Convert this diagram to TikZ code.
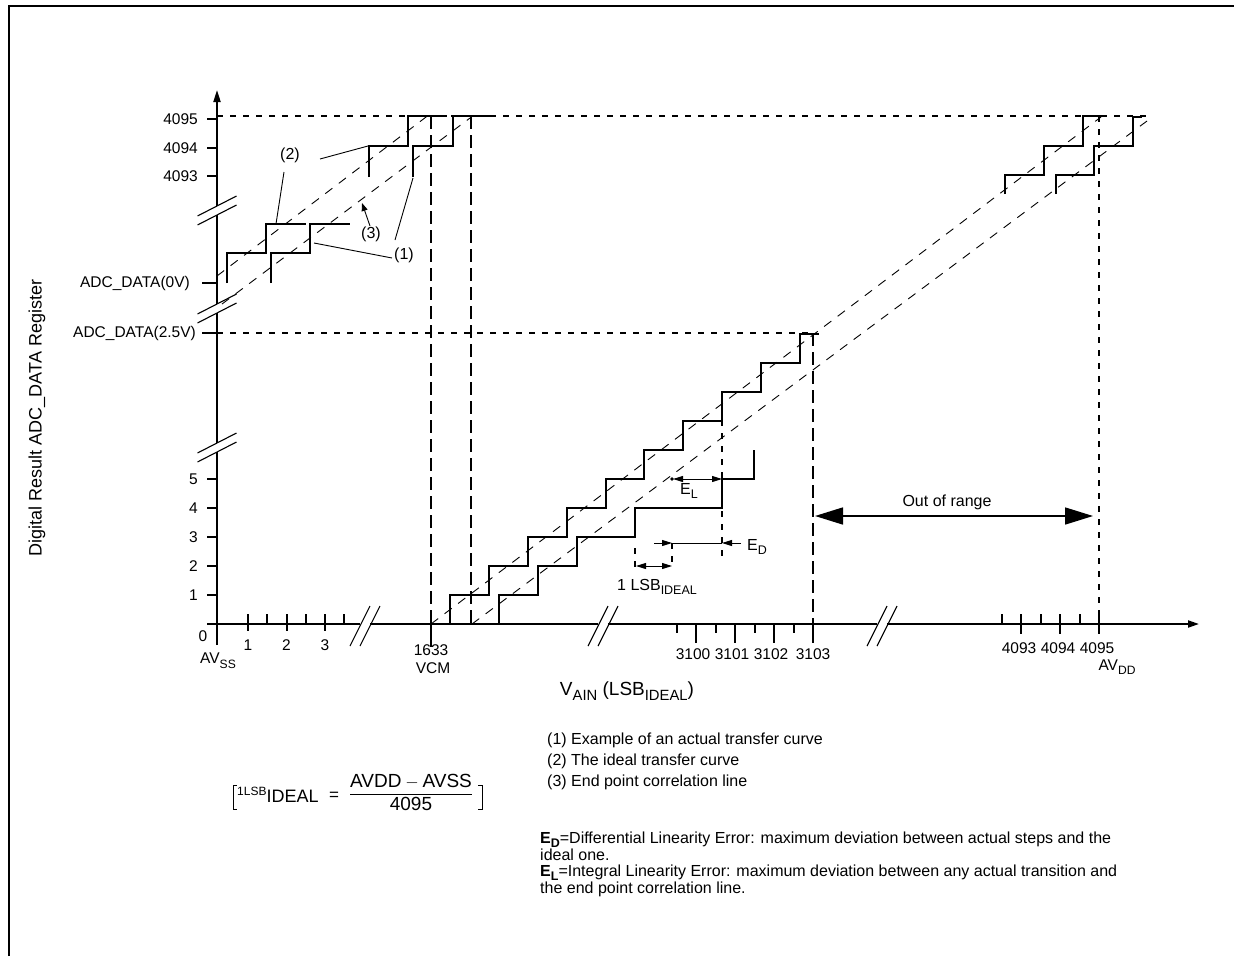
\documentclass[tikz,border=0pt]{standalone}
\usepackage{fontspec}
\setmainfont{Liberation Sans}
\usepackage{amsmath}
\usetikzlibrary{arrows.meta}

\newcommand{\subtxt}[1]{\raisebox{-0.3em}{\scalebox{0.78}{#1}}}
\newcommand{\subnote}[1]{\raisebox{-0.2em}{\scalebox{0.78}{#1}}}

\tikzset{
  axisline/.style={line width=2pt},
  stair/.style={line width=2pt},
  fitline/.style={line width=0.9pt, dash pattern=on 9pt off 8pt},
  guide/.style={line width=2pt, dash pattern=on 13pt off 6pt},
  level/.style={line width=1.6pt, dash pattern=on 6pt off 7pt},
  leader/.style={line width=0.9pt},
  tickmark/.style={line width=2pt},
  brk/.style={line width=1.1pt},
  lbl/.style={inner sep=0pt, font=\fontsize{16}{18}\selectfont},
  ticklbl/.style={inner sep=0pt, font=\fontsize{15.5}{17}\selectfont},
  note/.style={inner sep=0pt, anchor=north west, align=left, font=\fontsize{16}{17}\selectfont},
  tip/.style={-{Triangle[length=10pt,width=6pt]}},
}

\begin{document}
\begin{tikzpicture}[x=1pt,y=-1pt]
	\useasboundingbox (0,0) rectangle (1234,956);
	% frame
	\draw[line width=2.5pt] (9,956) -- (9,6) -- (1234,6);
	
	% axes with breaks
	\draw[axisline] (217,645) -- (217,452);
	\draw[axisline] (217,443) -- (217,313);
	\draw[axisline] (217,304) -- (217,215);
	\draw[axisline,-{Triangle[length=12pt,width=7pt]}] (217,206) -- (217,90);
	\draw[axisline] (207,624) -- (360,624);
	\draw[axisline] (370,624) -- (598,624);
	\draw[axisline] (608,624) -- (877,624);
	\draw[axisline,-{Triangle[length=11pt,width=7pt]}] (887,624) -- (1199,624);
	\foreach \y in {206,215,304,313,443,452}
		\draw[brk] (197.5,\y+10) -- (236.5,\y-10);
	\foreach \x in {360,370,598,608,877,887}
		\draw[brk] (\x-10,646) -- (\x+10,606);
	
	% y ticks
	\foreach \y/\t in {119/4095,148/4094,176/4093}{
		\draw[tickmark] (207,\y) -- (217,\y);
		\node[ticklbl,anchor=east] (y\t) at (198,\y) {\t};
	}
	\foreach \k in {1,...,5}{
		\draw[tickmark] (207,624-29*\k) -- (217,624-29*\k);
		\node[ticklbl,anchor=east] (y\k) at (198,624-29*\k) {\k};
	}
	\draw[tickmark] (202,283) -- (217,283);
	\node[ticklbl,anchor=east] (yzero) at (190,283) {ADC\_DATA(0V)};
	\draw[tickmark] (202,333) -- (217,333);
	\node[ticklbl,anchor=east] (yhalf) at (196,333) {ADC\_DATA(2.5V)};
	
	% x ticks
	\foreach \x in {248,286.5,325} \draw[tickmark] (\x,614) -- (\x,631);
	\foreach \x in {267,306,344} \draw[tickmark] (\x,614) -- (\x,624);
	\foreach \x in {696,735,774,813} \draw[tickmark] (\x,624) -- (\x,643);
	\foreach \x in {676.5,715.5,754.5,793.5} \draw[tickmark] (\x,624) -- (\x,633);
	\foreach \x in {1021,1060,1099} \draw[tickmark] (\x,614) -- (\x,634);
	\foreach \x in {1002,1041,1080} \draw[tickmark] (\x,614) -- (\x,624);
	\draw[tickmark] (431,624) -- (431,647);
	\node[ticklbl] (x0) at (203,636) {0};
	\node[ticklbl] (x1) at (248,645) {1};
	\node[ticklbl] (x2) at (286.5,645) {2};
	\node[ticklbl] (x3) at (325,645) {3};
	\node[ticklbl] (xss) at (218,661) {AV\subtxt{SS}};
	\node[ticklbl] (xvcm) at (431,650) {1633};
	\node[ticklbl] (xvcmb) at (433,668) {VCM};
	\node[ticklbl] (x3100) at (693,654) {3100};
	\node[ticklbl] (x3101) at (732,654) {3101};
	\node[ticklbl] (x3102) at (771,654) {3102};
	\node[ticklbl] (x3103) at (813,654) {3103};
	\node[ticklbl] (x4093) at (1019,648) {4093};
	\node[ticklbl] (x4094) at (1058,648) {4094};
	\node[ticklbl] (x4095) at (1097,648) {4095};
	\node[ticklbl] (xdd) at (1117,667) {AV\subtxt{DD}};
	
	% guide lines
	\draw[level] (217,116) -- (1150,116);
	\draw[level] (217,333) -- (815,333);
	\draw[guide] (431,116) -- (431,624);
	\draw[guide] (471,116) -- (471,624);
	\draw[guide] (813,333) -- (813,624);
	\draw[level] (1099,116) -- (1099,624);
	
	% end point and ideal lines
	\draw[fitline] (431,624) -- (1101,117);
	\draw[fitline] (472,624) -- (1147,121);
	\draw[fitline] (217,276) -- (430,114);
	\draw[fitline] (222,304) -- (470,118);
	
	% staircases
	\draw[stair] (450,624) -- (450,595) -- (489,595) -- (489,566) -- (528,566) -- (528,537)
		-- (567,537) -- (567,508) -- (606,508) -- (606,479) -- (644,479) -- (644,450)
		-- (683,450) -- (683,421) -- (722,421) -- (722,392) -- (761,392) -- (761,363)
		-- (800,363) -- (800,334) -- (819,334);
	\draw[stair] (499,624) -- (499,595) -- (538,595) -- (538,566) -- (577,566) -- (577,537)
		-- (635,537) -- (635,508) -- (722,508) -- (722,479) -- (754,479) -- (754,450);
	\draw[stair] (227,283) -- (227,253) -- (266,253) -- (266,224) -- (306,224);
	\draw[stair] (271,283) -- (271,253) -- (310,253) -- (310,224) -- (350,224);
	\draw[stair] (369,177) -- (369,146) -- (408,146) -- (408,116) -- (447,116);
	\draw[stair] (413,177) -- (413,146) -- (453,146) -- (453,116) -- (492,116);
	\draw[stair] (1005,194) -- (1005,175) -- (1044,175) -- (1044,146) -- (1083,146)
		-- (1083,116) -- (1102,116);
	\draw[stair] (1056,194) -- (1056,175) -- (1094,175) -- (1094,146) -- (1133,146)
		-- (1133,117) -- (1142,117);
	
	% curve labels
	\node[lbl] (lblTwo) at (290,155) {(2)};
	\node[lbl] (lblThree) at (371,234) {(3)};
	\node[lbl] (lblOne) at (404,255) {(1)};
	\coordinate (c2a) at (320,159);
	\coordinate (c2b) at (368,146);
	\coordinate (c2c) at (284,172);
	\coordinate (c2d) at (276,224);
	\coordinate (c3a) at (370,226);
	\coordinate (c3b) at (362,203);
	\coordinate (c1a) at (392,258);
	\coordinate (c1b) at (314,243);
	\coordinate (c1c) at (395,240);
	\coordinate (c1d) at (413,178);
	\draw[leader] (c2a) -- (c2b);
	\draw[leader] (c2c) -- (c2d);
	\draw[leader,-{Triangle[length=8pt,width=6pt]}] (c3a) -- (c3b);
	\draw[leader] (c1a) -- (c1b);
	\draw[leader] (c1c) -- (c1d);
	
	% error marks
	\draw[level,line width=1.2pt] (722,420) -- (722,557);
	\draw[level,line width=1.1pt] (672,543) -- (672,568);
	\draw[level,line width=1.1pt] (635,548) -- (635,568);
	\fill (672,479) circle (1.8pt);
	\coordinate (elA) at (673,479);
	\coordinate (elB) at (722,479);
	\draw[leader,{Triangle[length=10pt,width=6pt]}-{Triangle[length=10pt,width=6pt]}] (elA) -- (elB);
	\node[lbl] (lblEL) at (689,491) {E\subtxt{L}};
	\coordinate (edA) at (654,543);
	\coordinate (edB) at (672,543);
	\coordinate (edC) at (722,543);
	\coordinate (edD) at (741,543);
	\draw[leader,tip] (edA) -- (edB);
	\draw[leader] (edB) -- (edC);
	\draw[leader,tip] (edD) -- (edC);
	\node[lbl] (lblED) at (757,547) {E\subtxt{D}};
	\coordinate (lsbA) at (636,566);
	\coordinate (lsbB) at (672,566);
	\draw[leader,{Triangle[length=10pt,width=6pt]}-{Triangle[length=10pt,width=6pt]}] (lsbA) -- (lsbB);
	\node[lbl] (lblLSB) at (657,587) {1 LSB\subtxt{IDEAL}};
	
	% out of range
	\coordinate (orL) at (815,516);
	\coordinate (orR) at (1093,516);
	\draw[line width=1.6pt,{Triangle[length=28pt,width=17pt]}-{Triangle[length=28pt,width=17pt]}] (orL) -- (orR);
	\node[lbl] (lblRange) at (947,502) {Out of range};
	
	% axis titles
	\node[inner sep=0pt,rotate=90,font=\fontsize{18}{20}\selectfont] (ylabel) at (37,418) {Digital Result ADC\_DATA Register};
	\node[inner sep=0pt,font=\fontsize{19}{21}\selectfont] (xlabel) at (627,691) {V\subtxt{AIN} (LSB\subtxt{IDEAL})};
	
	% legend
	\node[lbl,anchor=west] (legOne) at (547,740) {(1) Example of an actual transfer curve};
	\node[lbl,anchor=west] (legTwo) at (547,761) {(2) The ideal transfer curve};
	\node[lbl,anchor=west] (legThree) at (547,782) {(3) End point correlation line};
	
	% formula
	\node[inner sep=0pt,anchor=base west] (fLsb) at (237,799)
		{\raisebox{4pt}{\fontsize{12}{12}\selectfont 1LSB}\raisebox{-3pt}{\fontsize{18}{18}\selectfont IDEAL}};
	\node[inner sep=0pt,anchor=base,font=\fontsize{17}{18}\selectfont] (fEq) at (334,800) {=};
	\node[inner sep=0pt,anchor=base,font=\fontsize{19}{21}\selectfont] (fFrac) at (411,799)
		{$\dfrac{\mbox{AVDD}-\mbox{AVSS}}{\mbox{4095}}$};
	\draw[line width=0.9pt] (237,785) -- (233,785) -- (233,809) -- (237,809);
	\draw[line width=0.9pt] (478,785) -- (482,785) -- (482,809) -- (478,809);
	
	% error definitions
	\node[note] (noteED) at (540,832)
		{\textbf{E\subnote{D}}=Differential Linearity Error: maximum deviation between actual steps and the\\ideal one.};
	\node[note] (noteEL) at (540,865)
		{\textbf{E\subnote{L}}=Integral Linearity Error: maximum deviation between any actual transition and\\the end point correlation line.};
\end{tikzpicture}
\end{document}
